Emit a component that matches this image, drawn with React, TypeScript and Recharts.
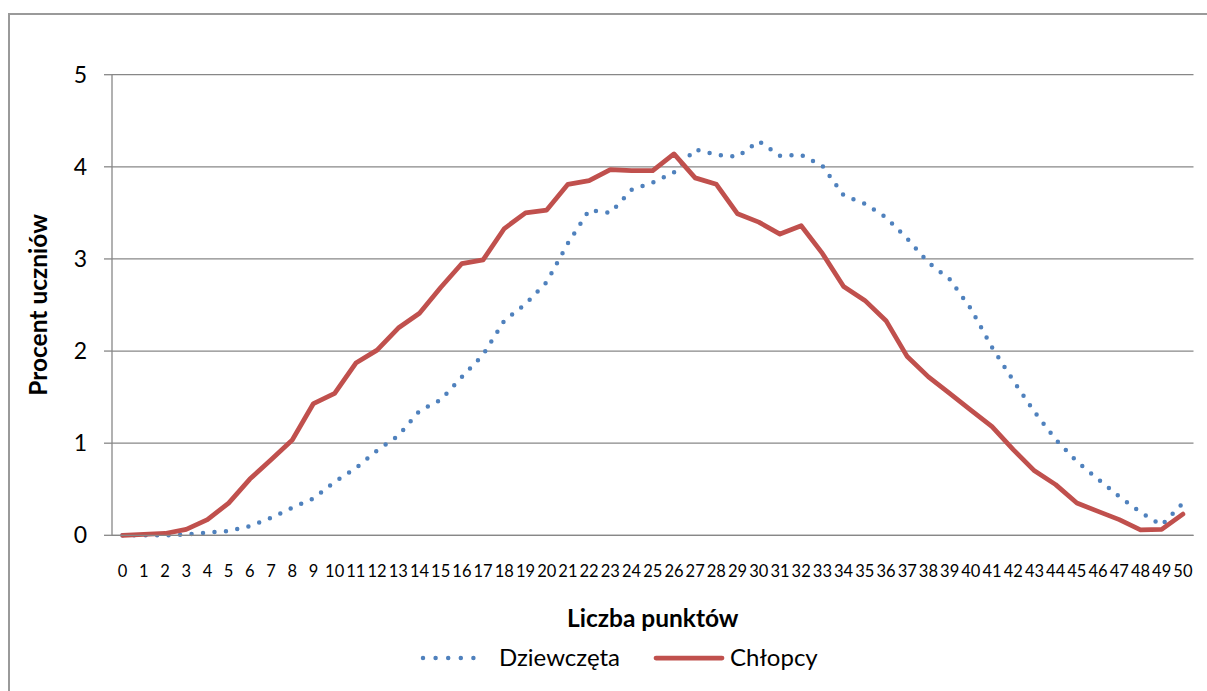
import React from 'react';
import { LineChart, Line, XAxis, YAxis, CartesianGrid } from 'recharts';

const categories: string[] = [
  '0','1','2','3','4','5','6','7','8','9','10','11','12','13','14','15','16','17','18','19','20',
  '21','22','23','24','25','26','27','28','29','30','31','32','33','34','35','36','37','38','39','40',
  '41','42','43','44','45','46','47','48','49','50',
];

const dziewczeta: number[] = [
  0, 0, 0, 0.01, 0.03, 0.045, 0.1, 0.19, 0.3, 0.4, 0.58, 0.73, 0.92, 1.08, 1.35, 1.47, 1.72, 1.96,
  2.33, 2.51, 2.75, 3.17, 3.53, 3.5, 3.75, 3.83, 3.94, 4.19, 4.13, 4.11, 4.28, 4.12, 4.13, 4.01,
  3.69, 3.6, 3.45, 3.22, 2.96, 2.78, 2.46, 2.04, 1.68, 1.34, 1.04, 0.8, 0.61, 0.42, 0.25, 0.11, 0.35,
];

const chlopcy: number[] = [
  0, 0.01, 0.02, 0.065, 0.17, 0.35, 0.61, 0.82, 1.035, 1.43, 1.54, 1.87, 2.01, 2.25, 2.41, 2.69,
  2.95, 2.99, 3.33, 3.5, 3.53, 3.81, 3.85, 3.97, 3.96, 3.96, 4.14, 3.88, 3.81, 3.49, 3.4, 3.27,
  3.36, 3.06, 2.7, 2.55, 2.33, 1.94, 1.72, 1.54, 1.36, 1.18, 0.93, 0.7, 0.55, 0.35, 0.26, 0.17,
  0.06, 0.065, 0.23,
];

const yTicks: number[] = [0, 1, 2, 3, 4, 5];

const seriesNames = { girls: 'Dziewczęta', boys: 'Chłopcy' };
const xTitle = 'Liczba punktów';
const yTitle = 'Procent uczniów';

const BLUE = '#4F81BD';
const RED = '#C0504D';
const GRID = '#878787';
const FONT = 'Lato, "Open Sans", sans-serif';

const data = categories.map((c, i) => ({
  cat: c,
  girls: dziewczeta[i],
  boys: chlopcy[i],
}));

const XTitle = (props: any) => {
  const vb = props.viewBox || {};
  const cx = vb.x + vb.width / 2;
  return (
    <text x={cx} y={627} textAnchor="middle" fontFamily={FONT} fontWeight={700} fontSize={24.5} fill="#000">
      {xTitle}
    </text>
  );
};

const YTitle = (props: any) => {
  const vb = props.viewBox || {};
  const cy = vb.y + vb.height / 2;
  return (
    <text
      x={47}
      y={cy}
      transform={`rotate(-90, 47, ${cy})`}
      textAnchor="middle"
      fontFamily={FONT}
      fontWeight={700}
      fontSize={24.5}
      fill="#000"
    >
      {yTitle}
    </text>
  );
};

export default function App() {
  return (
    <div
      style={{
        position: 'absolute',
        left: 0,
        top: 0,
        width: 1207,
        height: 691,
        overflow: 'hidden',
        background: '#fff',
      }}
    >
      <div
        style={{
          position: 'absolute',
          left: 8,
          top: 13,
          width: 1400,
          height: 900,
          border: '2px solid #9a9a9a',
        }}
      />
      <div style={{ position: 'absolute', left: 0, top: 0 }}>
        <LineChart
          width={1207}
          height={691}
          data={data}
          margin={{ top: 74.7, right: 13.5, left: 0, bottom: 115.7 }}
        >
          <CartesianGrid horizontal vertical={false} stroke={GRID} strokeWidth={1.3} />
          <XAxis
            dataKey="cat"
            interval={0}
            height={40}
            padding={{ left: 10.6, right: 10.6 }}
            tickLine={false}
            tickSize={0}
            tickMargin={30}
            axisLine={{ stroke: GRID, strokeWidth: 1.3 }}
            tick={{ fontFamily: FONT, fontSize: 16.5, fill: '#000' }}
            label={<XTitle />}
          />
          <YAxis
            domain={[0, 5]}
            ticks={yTicks}
            width={112}
            tickSize={8}
            tickMargin={17}
            axisLine={{ stroke: GRID, strokeWidth: 1.3 }}
            tickLine={{ stroke: GRID, strokeWidth: 1.3 }}
            tick={{ fontFamily: FONT, fontSize: 23, fill: '#000' }}
            label={<YTitle />}
          />
          <Line
            type="linear"
            dataKey="girls"
            name={seriesNames.girls}
            stroke={BLUE}
            strokeWidth={4.5}
            strokeDasharray="0 11.5"
            strokeLinecap="round"
            dot={false}
            isAnimationActive={false}
          />
          <Line
            type="linear"
            dataKey="boys"
            name={seriesNames.boys}
            stroke={RED}
            strokeWidth={4.75}
            strokeLinejoin="round"
            strokeLinecap="round"
            dot={false}
            isAnimationActive={false}
          />
        </LineChart>
      </div>
      <svg
        width={1207}
        height={691}
        style={{ position: 'absolute', left: 0, top: 0, pointerEvents: 'none' }}
      >
        <line
          x1={423}
          y1={658}
          x2={486}
          y2={658}
          stroke={BLUE}
          strokeWidth={4.5}
          strokeDasharray="0 12.6"
          strokeLinecap="round"
        />
        <text x={499} y={666} fontFamily={FONT} fontSize={24} fill="#000">
          {seriesNames.girls}
        </text>
        <line x1={656} y1={658} x2={722} y2={658} stroke={RED} strokeWidth={4.75} strokeLinecap="round" />
        <text x={730} y={666} fontFamily={FONT} fontSize={24} fill="#000">
          {seriesNames.boys}
        </text>
      </svg>
    </div>
  );
}
